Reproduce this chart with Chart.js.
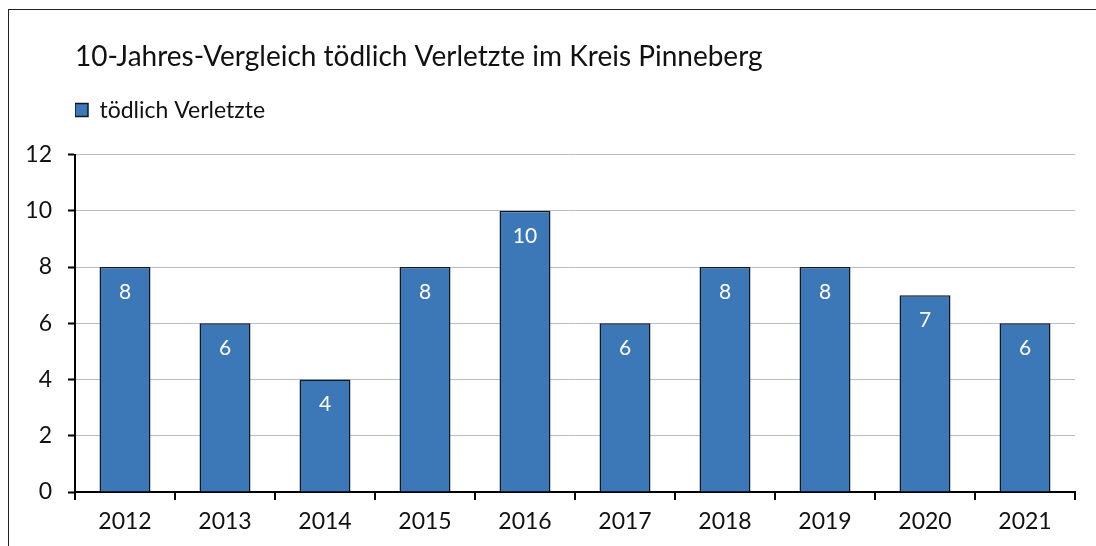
<!DOCTYPE html>
<html>
<head>
<meta charset="utf-8">
<script src="https://cdn.jsdelivr.net/npm/chart.js@4"></script>
<style>
  html, body { margin: 0; padding: 0; background: #fff; overflow: hidden; }
  #wrap { position: relative; width: 1096px; height: 546px; }
  #frame { position: absolute; left: 8px; top: 9px; width: 1200px; height: 700px; border: 1.5px solid #222; }
  canvas { position: absolute; left: 0; top: 0; }
</style>
</head>
<body>
<div id="wrap">
  <div id="frame"></div>
  <canvas id="chart" width="1096" height="546"></canvas>
</div>
<script>
const years = ['2012', '2013', '2014', '2015', '2016', '2017', '2018', '2019', '2020', '2021'];
const killed = [8, 6, 4, 8, 10, 6, 8, 8, 7, 6];
const seriesName = 'tödlich Verletzte';
const chartTitle = '10-Jahres-Vergleich tödlich Verletzte im Kreis Pinneberg';

const fontFamily = 'Lato, "Open Sans", sans-serif';

// white value labels inside the bars
const barLabels = {
  id: 'barLabels',
  afterDatasetsDraw(chart) {
    const ctx = chart.ctx;
    const meta = chart.getDatasetMeta(0);
    ctx.save();
    ctx.fillStyle = '#ffffff';
    ctx.font = '21px ' + fontFamily;
    ctx.textAlign = 'center';
    ctx.textBaseline = 'middle';
    meta.data.forEach((bar, i) => {
      ctx.fillText(String(killed[i]), bar.x, bar.y + 25);
    });
    ctx.restore();
  }
};

// extra room under the legend
const legendGap = {
  id: 'legendGap',
  beforeLayout(chart) {
    const lg = chart.legend;
    if (lg && !lg._gapped) {
      const fit = lg.fit.bind(lg);
      lg.fit = function () { fit(); this.height += 23; };
      lg._gapped = true;
    }
  }
};

new Chart(document.getElementById('chart'), {
  type: 'bar',
  data: {
    labels: years,
    datasets: [{
      label: seriesName,
      data: killed,
      backgroundColor: '#3c78b8',
      borderColor: '#111820',
      borderWidth: 1.5,
      barPercentage: 0.51,
      categoryPercentage: 1.0
    }]
  },
  options: {
    responsive: false,
    animation: false,
    layout: { padding: { top: 40, right: 21, bottom: 0, left: 0 } },
    plugins: {
      title: {
        display: true,
        text: chartTitle,
        align: 'start',
        fullSize: false,
        color: '#111',
        font: { family: fontFamily, size: 28, weight: 'normal' },
        padding: { top: 0, bottom: 25 }
      },
      legend: {
        display: true,
        align: 'start',
        fullSize: false,
        labels: {
          boxWidth: 13,
          boxHeight: 13,
          padding: 0,
          color: '#111',
          font: { family: fontFamily, size: 23 }
        }
      },
      tooltip: { enabled: false }
    },
    scales: {
      x: {
        grid: {
          display: true,
          offset: true,
          drawOnChartArea: false,
          color: '#000',
          tickLength: 8,
          lineWidth: 2
        },
        border: { color: '#000', width: 2 },
        ticks: {
          color: '#111',
          padding: 8,
          font: { family: fontFamily, size: 23 }
        },
        afterFit(scale) { scale.height = 54; }
      },
      y: {
        min: 0,
        max: 12,
        grid: {
          color: '#b6bdc8',
          lineWidth: 1,
          tickColor: '#000',
          tickWidth: 2,
          tickLength: 7
        },
        border: { color: '#000', width: 2 },
        ticks: {
          stepSize: 2,
          color: '#111',
          padding: 16,
          font: { family: fontFamily, size: 23 }
        },
        afterFit(scale) { scale.width = 75; }
      }
    }
  },
  plugins: [barLabels, legendGap]
});
</script>
</body>
</html>
